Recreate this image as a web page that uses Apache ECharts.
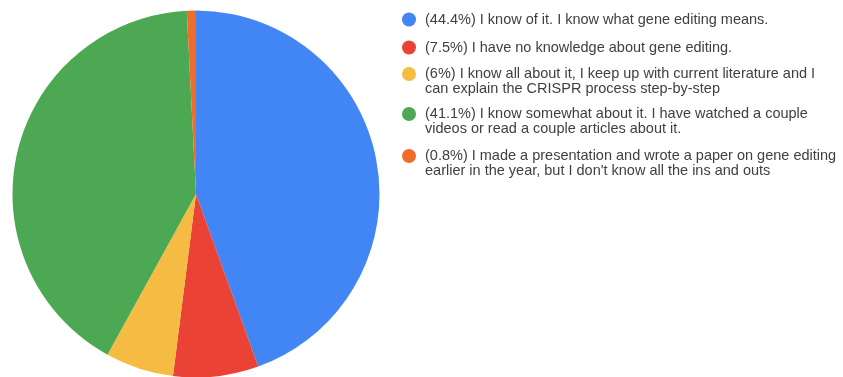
<!DOCTYPE html>
<html>
<head>
<meta charset="utf-8">
<script src="https://cdn.jsdelivr.net/npm/echarts@6/dist/echarts.min.js"></script>
<style>html,body{margin:0;padding:0;background:#fff;}#c{width:843px;height:377px;}</style>
</head>
<body>
<div id="c"></div>
<script>
var categories = [
  "(44.4%) I know of it. I know what gene editing means.",
  "(7.5%) I have no knowledge about gene editing.",
  "(6%) I know all about it, I keep up with current literature and I\ncan explain the CRISPR process step-by-step",
  "(41.1%) I know somewhat about it. I have watched a couple\nvideos or read a couple articles about it.",
  "(0.8%) I made a presentation and wrote a paper on gene editing\nearlier in the year, but I don't know all the ins and outs"
];
var values = [44.4, 7.5, 6, 41.1, 0.8];
var colors = ["#4285f4", "#ea4335", "#f6bb42", "#4ca853", "#ef6c2b"];
var legendTops = [12, 40, 52, 92, 134];

var chart = echarts.init(document.getElementById('c'), null, {renderer: 'canvas'});
var legends = categories.map(function (name, i) {
  var twoLine = name.indexOf('\n') >= 0;
  return {
    data: [name],
    orient: 'vertical',
    left: 402,
    top: legendTops[i],
    padding: 0,
    icon: 'circle',
    itemWidth: 22,
    itemHeight: 14,
    selectedMode: false,
    formatter: function (n) { return twoLine ? '\n' + n : n; },
    textStyle: {
      fontFamily: 'Liberation Sans, Arial, sans-serif',
      fontSize: 14.5,
      color: '#404040',
      lineHeight: 14.5
    }
  };
});
chart.setOption({
  animation: false,
  color: colors,
  legend: legends,
  series: [{
    type: 'pie',
    center: [196, 194],
    radius: 183.5,
    startAngle: 90,
    clockwise: true,
    label: {show: false},
    labelLine: {show: false},
    emphasis: {disabled: true},
    itemStyle: {borderWidth: 0},
    data: categories.map(function (n, i) { return {name: n, value: values[i]}; })
  }]
});
</script>
</body>
</html>
